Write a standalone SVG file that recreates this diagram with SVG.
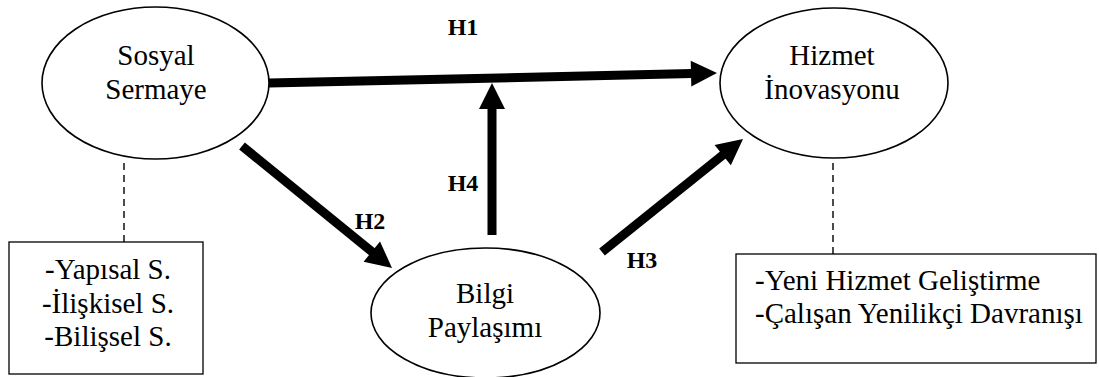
<svg xmlns="http://www.w3.org/2000/svg" width="1099" height="377" viewBox="0 0 1099 377">
<style>
.node ellipse{fill:#fff;stroke:#000;stroke-width:1.6}
.box{fill:#fff;stroke:#000;stroke-width:1.3}
text{font-family:'Liberation Serif','DejaVu Serif',serif;fill:#000}
.t{font-size:29px}
.c{text-anchor:middle}
.lbl{font-size:24px;font-weight:bold;text-anchor:middle}
.arr{stroke:#000;stroke-width:9;fill:none;marker-end:url(#head)}
.dash{stroke:#000;stroke-width:1.4;stroke-dasharray:7 5;fill:none}
</style>
<defs>
<marker id="head" markerUnits="userSpaceOnUse" markerWidth="27" markerHeight="28" refX="1" refY="13" orient="auto" overflow="visible">
<path d="M0,0 L26,13 L0,26 z" fill="#000"/>
</marker>
</defs>
<rect width="1099" height="377" fill="#fff"/>
<g id="connectors">
<line class="dash" x1="124" y1="163" x2="124" y2="242"/>
<line class="dash" x1="833" y1="163" x2="833" y2="254"/>
<line class="arr" x1="269" y1="83" x2="692" y2="73.6"/>
<line class="arr" x1="492" y1="235" x2="492" y2="108"/>
<line class="arr" x1="602" y1="252" x2="723.5" y2="154.6"/>
<line class="arr" x1="242" y1="146" x2="372.6" y2="252.2"/>
</g>
<g id="labels">
<text class="lbl" x="463" y="35">H1</text>
<text class="lbl" x="370" y="229">H2</text>
<text class="lbl" x="642" y="268">H3</text>
<text class="lbl" x="463" y="191">H4</text>
</g>
<g id="sosyal" class="node">
<ellipse cx="155.5" cy="83" rx="113.5" ry="76"/>
<text class="t c" x="156" y="65">Sosyal</text>
<text class="t c" x="156" y="99">Sermaye</text>
</g>
<g id="hizmet" class="node">
<ellipse cx="834" cy="83" rx="114" ry="75"/>
<text class="t c" x="832" y="65">Hizmet</text>
<text class="t c" x="832" y="99">İnovasyonu</text>
</g>
<g id="bilgi" class="node">
<ellipse cx="485.5" cy="313" rx="114.5" ry="65"/>
<text class="t c" x="485" y="303">Bilgi</text>
<text class="t c" x="485" y="337">Paylaşımı</text>
</g>
<g id="sosyal-dims">
<rect class="box" x="9" y="242" width="194" height="132"/>
<text class="t c" x="108" y="279">-Yapısal S.</text>
<text class="t c" x="108" y="313">-İlişkisel S.</text>
<text class="t c" x="108" y="346">-Bilişsel S.</text>
</g>
<g id="hizmet-dims">
<rect class="box" x="736" y="254" width="360" height="109"/>
<text class="t" x="755" y="290">-Yeni Hizmet Geliştirme</text>
<text class="t" x="755" y="323">-Çalışan Yenilikçi Davranışı</text>
</g>
</svg>
